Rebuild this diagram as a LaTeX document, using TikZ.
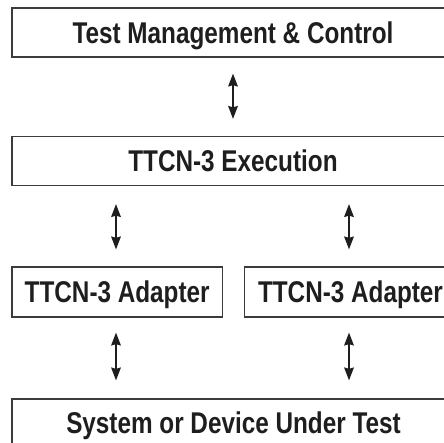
\documentclass[tikz,border=0pt]{standalone}
\usepackage{fontspec}
\newfontfamily\condfont[FakeStretch=0.81]{Liberation Sans}
\definecolor{boxline}{RGB}{60,60,60}
\definecolor{txt}{RGB}{30,30,30}
\begin{document}
\begin{tikzpicture}[x=1pt,y=1pt,
  blk/.style={draw=boxline, line width=1.3pt, rectangle, inner sep=0pt,
    minimum height=49pt, text=txt,
    font=\condfont\bfseries\fontsize{30}{30}\selectfont, text height=21.5pt, text depth=0pt},
  shaft/.style={line width=1.1pt, draw=txt},
  headfill/.style={fill=txt}]
\useasboundingbox (0,0) rectangle (444,-443);
\node[blk, minimum width=442pt] (tm) at (233,-32.5) {Test Management \& Control};
\node[blk, minimum width=442pt] (ex) at (233,-161) {TTCN-3 Execution};
\node[blk, minimum width=210.5pt, minimum height=50pt] (a1) at (117.2,-292) {TTCN-3 Adapter};
\node[blk, minimum width=212pt, minimum height=50pt] (a2) at (350.5,-292) {TTCN-3 Adapter};
\node[blk, minimum width=443pt, minimum height=48pt] (sut) at (233.5,-423) {System or Device Under Test};
\coordinate (xl) at (116,0);
\coordinate (xr) at (349,0);
\coordinate (t1) at ([yshift=-16pt]tm.south);
\coordinate (t2) at ([yshift=17pt]ex.north);
\coordinate (l1) at ([yshift=-18pt]ex.south -| xl);
\coordinate (l2) at ([yshift=17pt]a1.north -| xl);
\coordinate (r1) at ([yshift=-18pt]ex.south -| xr);
\coordinate (r2) at ([yshift=17pt]a2.north -| xr);
\coordinate (l3) at ([yshift=-15pt]a1.south -| xl);
\coordinate (l4) at ([yshift=18pt]sut.north -| xl);
\coordinate (r3) at ([yshift=-15pt]a2.south -| xr);
\coordinate (r4) at ([yshift=18pt]sut.north -| xr);
\foreach \p/\q in {t1/t2,l1/l2,r1/r2,l3/l4,r3/r4}{
  \draw[shaft] ([yshift=-8pt]\p) -- ([yshift=8pt]\q);
  \fill[headfill] (\p) -- ++(-5,-13) -- ++(5,1.5) -- ++(5,-1.5) -- cycle;
  \fill[headfill] (\q) -- ++(-5,13) -- ++(5,-1.5) -- ++(5,1.5) -- cycle;
}
\end{tikzpicture}
\end{document}
